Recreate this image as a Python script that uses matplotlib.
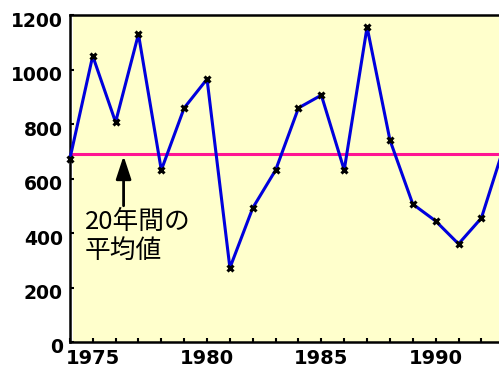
import matplotlib.pyplot as plt
import matplotlib.transforms as mtransforms
from matplotlib.ticker import MultipleLocator

years = list(range(1974, 1994))
values = [672, 1050, 807, 1130, 631, 859, 965, 272, 492, 631,
          859, 906, 631, 1156, 741, 506, 444, 360, 455, 720]
mean_value = 690
note = '20年間の\n平均値'

fig = plt.figure(figsize=(4.99, 3.69), dpi=100)
ax = fig.add_axes([0.140, 0.0732, 0.86, 0.886])

ax.set_facecolor('white')
ax.axvspan(1974.15, 1992.77, color='#ffffcc', zorder=0, lw=0)

ax.axhline(mean_value, color='#ff1493', lw=2.2, zorder=2)
ax.plot(years, values, color='#0000dd', lw=2.2, zorder=3,
        marker='x', ms=5, mew=2.2, mec='black', clip_on=False)

ax.annotate('', xy=(1976.35, 683), xytext=(1976.35, 500),
            arrowprops=dict(arrowstyle='-|>,head_length=1.0,head_width=0.33',
                            mutation_scale=14, lw=2, color='black',
                            shrinkA=0, shrinkB=0), zorder=4)
ax.text(1974.66, 490, note, ha='left', va='top', fontsize=18.5,
        family=['Noto Sans CJK JP', 'DejaVu Sans'], linespacing=1.15, zorder=4)

ax.set_xlim(1974, 1992.77)
ax.set_ylim(0, 1200)
ax.xaxis.set_major_locator(MultipleLocator(5))
ax.xaxis.set_minor_locator(MultipleLocator(1))
ax.yaxis.set_major_locator(MultipleLocator(200))

for s in ['left', 'top', 'bottom']:
    ax.spines[s].set_linewidth(1.8)
ax.spines['right'].set_visible(False)

ax.tick_params(axis='both', which='both', direction='in', length=3, width=1.5)
ax.tick_params(axis='y', right=False, pad=5, labelsize=13.5)
ax.tick_params(axis='x', top=False, pad=5, labelsize=14)
for lab in ax.get_yticklabels() + ax.get_xticklabels():
    lab.set_fontweight('bold')

offset = mtransforms.ScaledTranslation(0, -4 / 100, fig.dpi_scale_trans)
for lab in ax.get_yticklabels():
    lab.set_transform(lab.get_transform() + offset)

fig.savefig('out.png', dpi=100)
